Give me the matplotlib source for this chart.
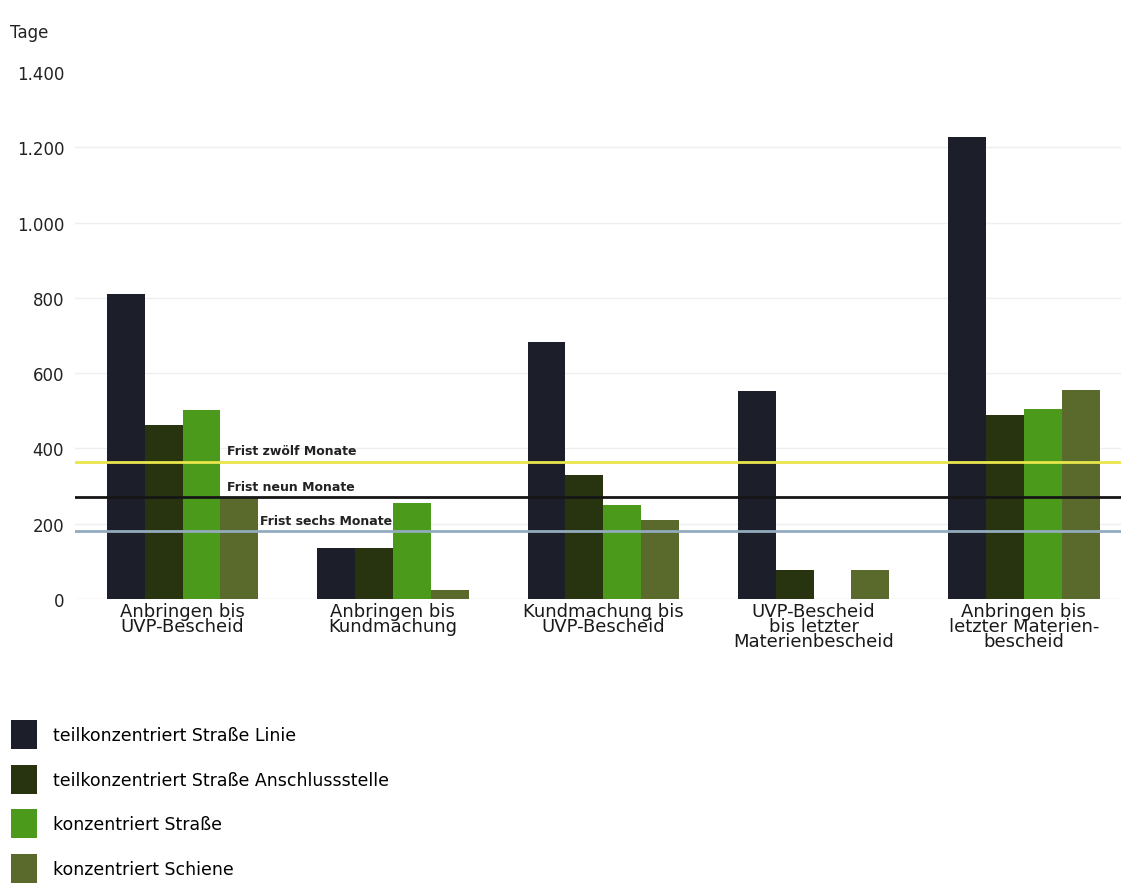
import numpy as np
import matplotlib.pyplot as plt

# Categories (x axis)
categories = [
    "Anbringen bis\nUVP-Bescheid",
    "Anbringen bis\nKundmachung",
    "Kundmachung bis\nUVP-Bescheid",
    "UVP-Bescheid\nbis letzter\nMaterienbescheid",
    "Anbringen bis\nletzter Materien-\nbescheid",
]

# Series (days)
series_names = [
    "teilkonzentriert Straße Linie",
    "teilkonzentriert Straße Anschlussstelle",
    "konzentriert Straße",
    "konzentriert Schiene",
]
teil_linie = [810, 135, 683, 553, 1228]
teil_anschluss = [462, 135, 330, 78, 490]
konz_strasse = [502, 255, 250, 0, 505]
konz_schiene = [270, 25, 210, 78, 555]

# Deadlines (days)
frist_labels = ["Frist zwölf Monate", "Frist neun Monate", "Frist sechs Monate"]
frist_values = [365, 270, 180]

yticks = [0, 200, 400, 600, 800, 1000, 1200, 1400]
ytick_labels = ["0", "200", "400", "600", "800", "1.000", "1.200", "1.400"]

bar_colors = ["#1c1f29", "#28330f", "#4b9a1b", "#5a6a2c"]
frist_colors = ["#e9e64c", "#161616", "#93abbd"]

plt.rcParams['font.family'] = ['DejaVu Sans']

fig = plt.figure(figsize=(11.24, 8.87), dpi=100)
ax = fig.add_axes([0.067, 0.3236, 0.93, 0.5941])

x = np.arange(len(categories))
width = 0.18
all_series = [teil_linie, teil_anschluss, konz_strasse, konz_schiene]
handles = []
for i, (vals, name, col) in enumerate(zip(all_series, series_names, bar_colors)):
    b = ax.bar(x + (i - 1.5) * width, vals, width, color=col, label=name,
               linewidth=0, zorder=2)
    handles.append(b)

# deadline lines with labels
frist_text_x = [0.21, 0.21, 0.37]
for lab, val, col, tx in zip(frist_labels, frist_values, frist_colors, frist_text_x):
    ax.axhline(val, color=col, lw=2, zorder=3)
    ax.text(tx, val + 12, lab, fontsize=9, fontweight='bold', color='#222222',
            va='bottom', ha='left', zorder=4)

ax.set_xlim(-0.51, 4.46)
ax.set_ylim(0, 1400)
ax.set_yticks(yticks)
ax.set_yticklabels(ytick_labels, fontsize=12, color='#222222')
ax.set_xticks(x)
ax.set_xticklabels(categories, fontsize=13, color='#1a1a1a', linespacing=0.8)
ax.tick_params(axis='both', length=0)
ax.tick_params(axis='x', pad=2)
ax.tick_params(axis='y', pad=8)
for s in ax.spines.values():
    s.set_visible(False)
ax.axhline(0, color='#e4e4e4', lw=1, zorder=1)
for v in yticks[1:-1]:
    ax.axhline(v, color='#efefef', lw=1, zorder=1)

fig.text(0.009, 0.963, "Tage", fontsize=12, color='#222222', va='center')

fig.legend(handles=handles, labels=series_names, loc='upper left',
           bbox_to_anchor=(0.004, 0.195), frameon=False, fontsize=12.5,
           handlelength=1.5, handleheight=2.2, labelspacing=0.9,
           handletextpad=0.9, borderaxespad=0.0)

fig.savefig("out.png", dpi=100)
